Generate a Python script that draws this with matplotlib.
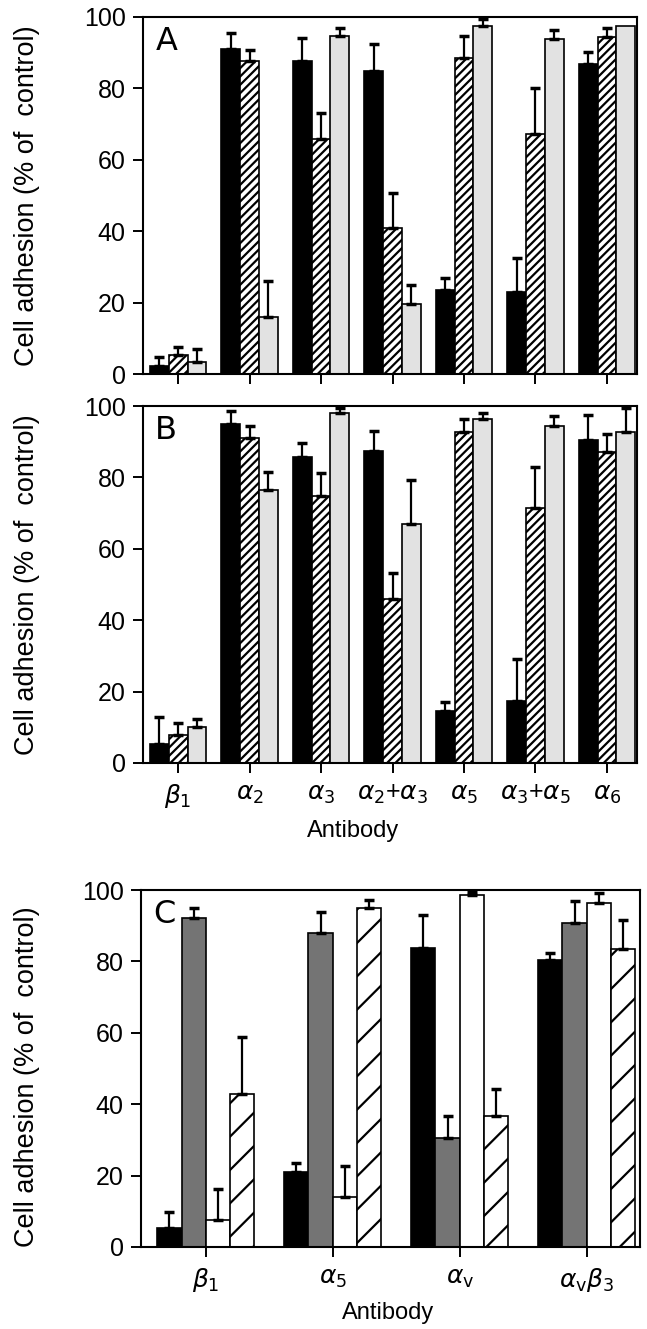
import numpy as np
import matplotlib
matplotlib.use('Agg')
import matplotlib.pyplot as plt

plt.rcParams['font.family'] = ['Liberation Sans', 'DejaVu Sans']
plt.rcParams['hatch.linewidth'] = 1.6

# === Дані ===
ab_labels = [r'$\beta_1$', r'$\alpha_2$', r'$\alpha_3$', r'$\alpha_2$+$\alpha_3$',
             r'$\alpha_5$', r'$\alpha_3$+$\alpha_5$', r'$\alpha_6$']

# панель A: чорні, заштриховані, крапчасті
a_black = [2.3, 91.0, 87.7, 84.9, 23.6, 23.0, 86.8]
a_black_err = [2.5, 4.6, 6.3, 7.5, 3.3, 9.5, 3.5]
a_hatch = [5.3, 87.7, 65.8, 40.8, 88.6, 67.2, 94.4]
a_hatch_err = [2.3, 3.0, 7.3, 9.9, 6.1, 13.0, 2.4]
a_dots = [3.4, 16.0, 94.7, 19.7, 97.5, 93.8, 97.5]
a_dots_err = [3.5, 10.0, 2.3, 5.1, 1.8, 2.5, 0.0]

# панель B
b_black = [5.4, 94.9, 85.8, 87.5, 14.5, 17.4, 90.5]
b_black_err = [7.5, 3.7, 3.9, 5.6, 2.6, 11.6, 7.0]
b_hatch = [7.8, 90.9, 74.8, 45.9, 92.6, 71.5, 87.2]
b_hatch_err = [3.5, 3.5, 6.5, 7.2, 3.7, 11.3, 4.9]
b_dots = [10.1, 76.6, 97.9, 66.9, 96.3, 94.4, 92.6]
b_dots_err = [2.1, 4.8, 1.4, 12.4, 1.6, 2.8, 6.7]

# панель C: чорні, сірі, білі, заштриховані
c_labels = [r'$\beta_1$', r'$\alpha_5$', r'$\alpha_\mathrm{v}$', r'$\alpha_\mathrm{v}\beta_3$']
c_black = [5.3, 21.0, 83.8, 80.4]
c_black_err = [4.5, 2.4, 9.3, 1.9]
c_gray = [92.2, 87.9, 30.4, 90.7]
c_gray_err = [2.8, 6.0, 6.3, 6.3]
c_white = [7.7, 14.0, 98.6, 96.3]
c_white_err = [8.5, 8.6, 0.7, 2.8]
c_hatch = [42.8, 94.9, 36.8, 83.6]
c_hatch_err = [16.1, 2.3, 7.4, 8.0]

W, H = 647, 1329
fig = plt.figure(figsize=(W / 100, H / 100), dpi=100)


def frac(left, top, right, bottom):
    return [left / W, 1 - bottom / H, (right - left) / W, (bottom - top) / H]


def draw_series(ax, x, vals, errs, width, **style):
    ax.bar(x, vals, width, edgecolor='black', linewidth=1.2, zorder=2, **style)
    errs = np.array(errs)
    m = errs > 0
    ax.errorbar(np.array(x)[m], np.array(vals)[m],
                yerr=[np.zeros(m.sum()), errs[m]],
                fmt='none', ecolor='black', elinewidth=1.6,
                capsize=3.5, capthick=2.5, zorder=3)


def style_axes(ax, letter):
    ax.set_ylim(0, 100)
    ax.set_yticks([0, 20, 40, 60, 80, 100])
    for s in ax.spines.values():
        s.set_linewidth(1.5)
    ax.tick_params(direction='out', length=7.5, width=1.4, labelsize=18, pad=5)
    ax.text(0.025, 0.975, letter, transform=ax.transAxes, ha='left', va='top',
            fontsize=23, family='DejaVu Sans')


w = 0.265
x7 = np.arange(7)
light = '#e2e2e2'
panels_ab = [
    ('A', frac(143, 17, 637, 374), a_black, a_black_err, a_hatch, a_hatch_err, a_dots, a_dots_err),
    ('B', frac(143, 406, 637, 763), b_black, b_black_err, b_hatch, b_hatch_err, b_dots, b_dots_err),
]
for letter, rect, bk, bke, ht, hte, dt, dte in panels_ab:
    ax = fig.add_axes(rect)
    draw_series(ax, x7 - w, bk, bke, w, color='black')
    draw_series(ax, x7, ht, hte, w, color='white', hatch='////')
    draw_series(ax, x7 + w, dt, dte, w, color=light)
    ax.set_xlim(-0.49, 6.42)
    ax.set_xticks(x7)
    style_axes(ax, letter)
    if letter == 'A':
        ax.set_xticklabels([])
    else:
        ax.set_xticklabels(ab_labels, fontsize=18)
        ax.tick_params(axis='x', pad=6)
        fig.text(353 / W, 1 - 831 / H, 'Antibody', ha='center', va='center', fontsize=17)

wc = 0.191
x4 = np.arange(4)
ax = fig.add_axes(frac(141, 890, 640, 1247))
draw_series(ax, x4 - 1.5 * wc, c_black, c_black_err, wc, color='black')
draw_series(ax, x4 - 0.5 * wc, c_gray, c_gray_err, wc, color='#747474')
draw_series(ax, x4 + 0.5 * wc, c_white, c_white_err, wc, color='white')
draw_series(ax, x4 + 1.5 * wc, c_hatch, c_hatch_err, wc, color='white', hatch='/')
ax.set_xlim(-0.51, 3.42)
ax.set_xticks(x4)
ax.set_xticklabels(c_labels, fontsize=18)
style_axes(ax, 'C')
ax.tick_params(axis='x', pad=6)
fig.text(388 / W, 1 - 1313 / H, 'Antibody', ha='center', va='center', fontsize=17)

# підписи осі Y
for yc in [(17 + 374) / 2, (406 + 763) / 2, (890 + 1247) / 2 + 8]:
    fig.text(27 / W, 1 - yc / H, 'Cell adhesion (% of  control)', rotation=90,
             ha='center', va='center', fontsize=19.5)

fig.savefig('out.png', dpi=100)
